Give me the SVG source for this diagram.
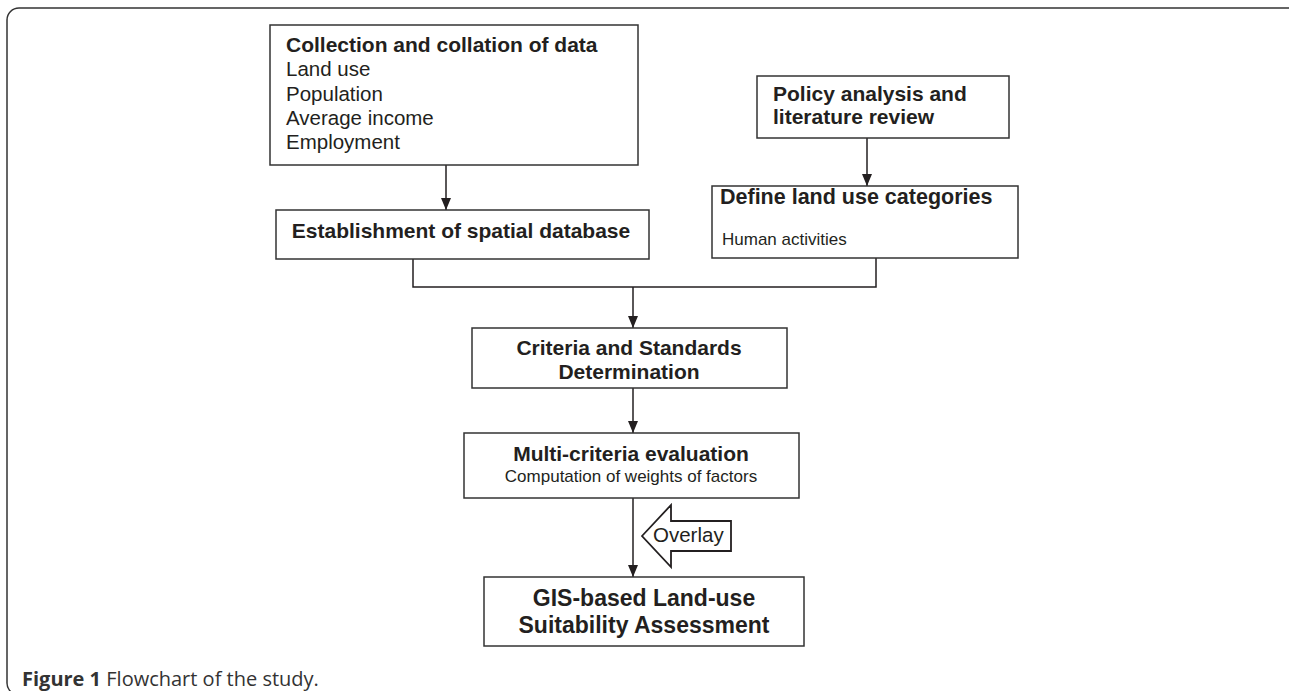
<svg xmlns="http://www.w3.org/2000/svg" width="1289" height="691" viewBox="0 0 1289 691">
<defs>
<marker id="arr" viewBox="0 0 12 10" refX="12" refY="5" markerWidth="12" markerHeight="10" markerUnits="userSpaceOnUse" orient="auto">
<path d="M0,0 L12,5 L0,10 Z" fill="#231f20"/>
</marker>
<style>
.box{fill:#fff;stroke:#333;stroke-width:1.5}
.ln{fill:none;stroke:#231f20;stroke-width:1.5}
.b{font-family:"Liberation Sans",Arial,sans-serif;font-weight:bold;font-size:21px;fill:#231f20}
.r{font-family:"Liberation Sans",Arial,sans-serif;font-size:20.5px;fill:#231f20}
.c{text-anchor:middle}
</style>
</defs>
<rect width="1289" height="691" fill="#fff"/>
<rect x="7" y="8" width="1294" height="687" rx="12" fill="none" stroke="#333" stroke-width="1.5"/>
<g id="connectors">
<line class="ln" x1="446" y1="165" x2="446" y2="210" marker-end="url(#arr)"/>
<line class="ln" x1="867" y1="138" x2="867" y2="186" marker-end="url(#arr)"/>
<polyline class="ln" points="413,259 413,287 876,287 876,258"/>
<line class="ln" x1="633" y1="287" x2="633" y2="328" marker-end="url(#arr)"/>
<line class="ln" x1="633" y1="388" x2="633" y2="433" marker-end="url(#arr)"/>
<line class="ln" x1="633" y1="498" x2="633" y2="577" marker-end="url(#arr)"/>
</g>
<g id="n1">
<rect class="box" x="270" y="25" width="368" height="140"/>
<text class="b" x="286" y="52">Collection and collation of data</text>
<text class="r" x="286" y="76">Land use</text>
<text class="r" x="286" y="101">Population</text>
<text class="r" x="286" y="125">Average income</text>
<text class="r" x="286" y="149">Employment</text>
</g>
<g id="n2">
<rect class="box" x="276" y="210" width="373" height="49"/>
<text class="b c" x="461" y="238">Establishment of spatial database</text>
</g>
<g id="n3">
<rect class="box" x="757" y="76" width="252" height="62"/>
<text class="b" x="773" y="101">Policy analysis and</text>
<text class="b" x="773" y="124">literature review</text>
</g>
<g id="n4">
<rect class="box" x="712" y="186" width="306" height="72"/>
<text class="b" x="720" y="204" style="font-size:21.5px">Define land use categories</text>
<text class="r" x="722" y="245" style="font-size:17px">Human activities</text>
</g>
<g id="n5">
<rect class="box" x="472" y="328" width="315" height="60"/>
<text class="b c" x="629" y="355">Criteria and Standards</text>
<text class="b c" x="629" y="379">Determination</text>
</g>
<g id="n6">
<rect class="box" x="464" y="433" width="335" height="65"/>
<text class="b c" x="631" y="461">Multi-criteria evaluation</text>
<text class="r c" x="631" y="482" style="font-size:17px">Computation of weights of factors</text>
</g>
<g id="overlay">
<polygon points="642,536 671,505 671,521 731,521 731,551 671,551 671,567" fill="#fff" stroke="#231f20" stroke-width="1.8"/>
<text class="r" x="653" y="542" style="font-size:20.5px">Overlay</text>
</g>
<g id="n7">
<rect class="box" x="484" y="577" width="320" height="69"/>
<text class="b c" x="644" y="606" style="font-size:23px">GIS-based Land-use</text>
<text class="b c" x="644" y="633" style="font-size:23px">Suitability Assessment</text>
</g>
<text x="22" y="686" style="font-family:'Open Sans','Noto Sans',sans-serif;font-size:20px;fill:#333"><tspan font-weight="bold">Figure 1</tspan> Flowchart of the study.</text>
</svg>
